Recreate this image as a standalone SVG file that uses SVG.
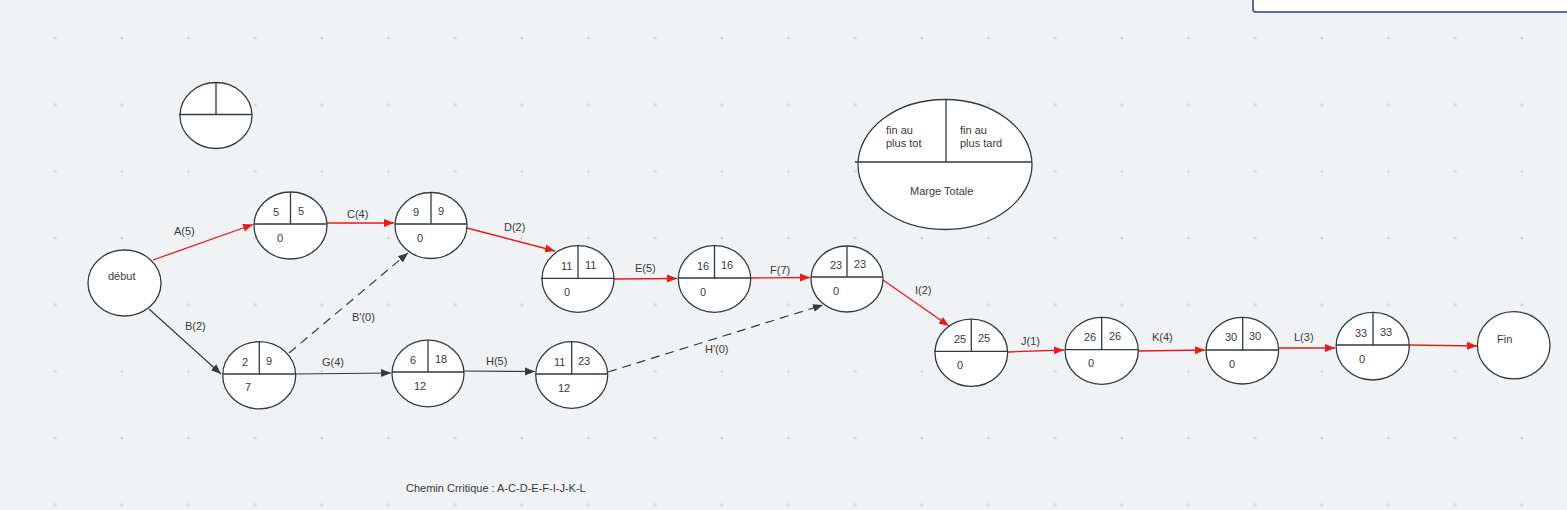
<svg xmlns="http://www.w3.org/2000/svg" width="1567" height="510" viewBox="0 0 1567 510">
<defs>
<style>
.n{fill:#fff;stroke:#333a42;stroke-width:1.3}
.d{stroke:#333a42;stroke-width:1.3;fill:none}
.t{font-family:"Liberation Sans",Arial,sans-serif;font-size:11px;fill:#3a3a3a}
.r{stroke:#e61b1b;stroke-width:1.3;fill:none}
.k{stroke:#333a42;stroke-width:1.2;fill:none}
.ds{stroke-dasharray:9 6}
.g{stroke:#cacdd2;stroke-width:0.7;fill:none}
</style>
<marker id="ar" viewBox="0 0 10 10" refX="10" refY="5" markerWidth="10" markerHeight="10" markerUnits="userSpaceOnUse" orient="auto"><path d="M0,1 L10,5 L0,9 z" fill="#e61b1b"/></marker>
<marker id="ak" viewBox="0 0 10 10" refX="10" refY="5" markerWidth="10" markerHeight="10" markerUnits="userSpaceOnUse" orient="auto"><path d="M0,1 L10,5 L0,9 z" fill="#333a42"/></marker>
<path id="row" class="g" d="M53,0h4M55,-2v4M119.67,0h4M121.67,-2v4M186.33,0h4M188.33,-2v4M253,0h4M255,-2v4M319.67,0h4M321.67,-2v4M386.33,0h4M388.33,-2v4M453,0h4M455,-2v4M519.67,0h4M521.67,-2v4M586.33,0h4M588.33,-2v4M653,0h4M655,-2v4M719.67,0h4M721.67,-2v4M786.33,0h4M788.33,-2v4M853,0h4M855,-2v4M919.67,0h4M921.67,-2v4M986.33,0h4M988.33,-2v4M1053,0h4M1055,-2v4M1119.67,0h4M1121.67,-2v4M1186.33,0h4M1188.33,-2v4M1253,0h4M1255,-2v4M1319.67,0h4M1321.67,-2v4M1386.33,0h4M1388.33,-2v4M1453,0h4M1455,-2v4M1519.67,0h4M1521.67,-2v4"/>
</defs>
<rect x="0" y="0" width="1567" height="510" fill="#f1f2f4"/>
<g id="grid">
<use href="#row" y="38.33"/>
<use href="#row" y="105"/>
<use href="#row" y="171.67"/>
<use href="#row" y="238.33"/>
<use href="#row" y="305"/>
<use href="#row" y="371.67"/>
<use href="#row" y="438.33"/>
<use href="#row" y="505"/>
</g>
<rect x="1253" y="-10" width="330" height="22" rx="3" fill="#fff" stroke="#35359a" stroke-width="1.5"/>

<g id="legend-small">
<ellipse class="n" cx="216" cy="115.5" rx="36" ry="33"/>
<path class="d" d="M179,114.5 H252 M216,82.5 V114.5"/>
</g>
<g id="legend-large">
<ellipse class="n" cx="945" cy="164.5" rx="87" ry="65"/>
<path class="d" d="M855,162 H1032 M946,100 V162"/>
<text class="t" x="886" y="134">fin au</text>
<text class="t" x="886" y="147">plus tot</text>
<text class="t" x="960" y="134">fin au</text>
<text class="t" x="960" y="147">plus tard</text>
<text class="t" x="910" y="195">Marge Totale</text>
</g>

<g id="connectors">
<path class="r" marker-end="url(#ar)" d="M153,260 L253,224.5"/>
<path class="r" marker-end="url(#ar)" d="M327,223 L394,223"/>
<path class="r" marker-end="url(#ar)" d="M467,228 L555,251"/>
<path class="r" marker-end="url(#ar)" d="M614,279 L677,278.5"/>
<path class="r" marker-end="url(#ar)" d="M751,278 L810,277.5"/>
<path class="r" marker-end="url(#ar)" d="M883,280 L949,326"/>
<path class="r" marker-end="url(#ar)" d="M1008,352 L1064,350"/>
<path class="r" marker-end="url(#ar)" d="M1138,351 L1205,350"/>
<path class="r" marker-end="url(#ar)" d="M1279,348 L1335,348"/>
<path class="r" marker-end="url(#ar)" d="M1409,345 L1477,346"/>
<path class="k" marker-end="url(#ak)" d="M149,309 L221,374"/>
<path class="k ds" marker-end="url(#ak)" d="M289,353 L408,253"/>
<path class="k" marker-end="url(#ak)" d="M296,374 L391,373"/>
<path class="k" marker-end="url(#ak)" d="M464,371 L535,371.5"/>
<path class="k ds" marker-end="url(#ak)" d="M608,372 L823,305"/>
<text class="t" x="174" y="235">A(5)</text>
<text class="t" x="347" y="218">C(4)</text>
<text class="t" x="504" y="231">D(2)</text>
<text class="t" x="635" y="272">E(5)</text>
<text class="t" x="770" y="274">F(7)</text>
<text class="t" x="915" y="294">I(2)</text>
<text class="t" x="1021" y="345">J(1)</text>
<text class="t" x="1152" y="341">K(4)</text>
<text class="t" x="1294" y="341">L(3)</text>
<text class="t" x="185" y="330">B(2)</text>
<text class="t" x="352" y="321">B'(0)</text>
<text class="t" x="322" y="366">G(4)</text>
<text class="t" x="486" y="365">H(5)</text>
<text class="t" x="705" y="353">H'(0)</text>
</g>

<g id="debut">
<ellipse class="n" cx="124.5" cy="283" rx="36.5" ry="33"/>
<text class="t" x="108" y="280">début</text>
</g>
<g id="node-5-5">
<ellipse class="n" cx="290.5" cy="225.5" rx="36.5" ry="33.5"/>
<path class="d" d="M254,224 H327 M290.5,192 V224"/>
<text class="t" x="273" y="216">5</text><text class="t" x="298" y="215">5</text><text class="t" x="277" y="242">0</text>
</g>
<g id="node-9-9">
<ellipse class="n" cx="431" cy="225.5" rx="36" ry="33"/>
<path class="d" d="M395,224 H467 M431,192.5 V224"/>
<text class="t" x="413" y="216">9</text><text class="t" x="438" y="215">9</text><text class="t" x="417" y="242">0</text>
</g>
<g id="node-11-11">
<ellipse class="n" cx="578" cy="279" rx="36" ry="33.3"/>
<path class="d" d="M541,278.3 H614 M578,245.7 V278.3"/>
<text class="t" x="561" y="270">11</text><text class="t" x="585" y="269">11</text><text class="t" x="564" y="296">0</text>
</g>
<g id="node-16-16">
<ellipse class="n" cx="714.5" cy="279" rx="36.2" ry="33.3"/>
<path class="d" d="M678.3,278 H750.7 M714.5,245.7 V278"/>
<text class="t" x="697" y="270">16</text><text class="t" x="721" y="269">16</text><text class="t" x="700" y="296">0</text>
</g>
<g id="node-23-23">
<ellipse class="n" cx="847" cy="279" rx="36" ry="33"/>
<path class="d" d="M811,277 H883 M847,246 V277"/>
<text class="t" x="830" y="269">23</text><text class="t" x="854" y="268">23</text><text class="t" x="833" y="295">0</text>
</g>
<g id="node-2-9">
<ellipse class="n" cx="259.2" cy="375.3" rx="36.5" ry="33.6"/>
<path class="d" d="M222.7,374 H295.7 M259.3,341.7 V374"/>
<text class="t" x="242" y="366">2</text><text class="t" x="266" y="365">9</text><text class="t" x="245" y="391">7</text>
</g>
<g id="node-6-18">
<ellipse class="n" cx="428" cy="373.5" rx="36" ry="33.3"/>
<path class="d" d="M392,372 H464 M428,340.2 V372"/>
<text class="t" x="410" y="364">6</text><text class="t" x="435" y="363">18</text><text class="t" x="414" y="390">12</text>
</g>
<g id="node-11-23">
<ellipse class="n" cx="571.7" cy="375" rx="36" ry="33.3"/>
<path class="d" d="M535.7,374 H607.7 M571.7,341.7 V374"/>
<text class="t" x="554" y="366">11</text><text class="t" x="578" y="365">23</text><text class="t" x="558" y="392">12</text>
</g>
<g id="node-25-25">
<ellipse class="n" cx="971.3" cy="352.7" rx="36.3" ry="33.6"/>
<path class="d" d="M934,351.3 H1007.7 M971.3,319 V351.3"/>
<text class="t" x="954" y="343">25</text><text class="t" x="978" y="342">25</text><text class="t" x="957" y="369">0</text>
</g>
<g id="node-26-26">
<ellipse class="n" cx="1101.7" cy="350.8" rx="36.6" ry="33.5"/>
<path class="d" d="M1065,349.7 H1138.3 M1101.7,317.3 V349.7"/>
<text class="t" x="1084" y="341">26</text><text class="t" x="1109" y="340">26</text><text class="t" x="1088" y="367">0</text>
</g>
<g id="node-30-30">
<ellipse class="n" cx="1242.3" cy="350.7" rx="36.3" ry="33.3"/>
<path class="d" d="M1206,350 H1278.7 M1242.7,317.4 V350"/>
<text class="t" x="1225" y="341">30</text><text class="t" x="1249" y="340">30</text><text class="t" x="1229" y="368">0</text>
</g>
<g id="node-33-33">
<ellipse class="n" cx="1372.7" cy="346.2" rx="36.6" ry="33.8"/>
<path class="d" d="M1336,345 H1409.3 M1373,312.4 V345"/>
<text class="t" x="1355" y="337">33</text><text class="t" x="1380" y="336">33</text><text class="t" x="1359" y="363">0</text>
</g>
<g id="fin">
<ellipse class="n" cx="1513.7" cy="345.3" rx="36.3" ry="33.6"/>
<text class="t" x="1497" y="343">Fin</text>
</g>
<text class="t" x="406" y="492">Chemin Crritique : A-C-D-E-F-I-J-K-L</text>
</svg>
